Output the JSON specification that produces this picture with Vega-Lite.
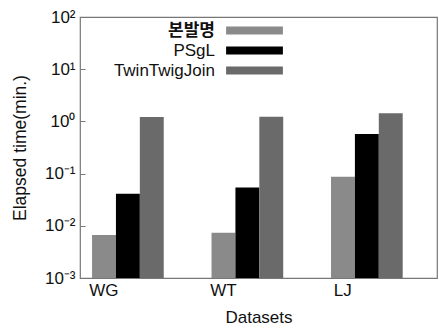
{
  "$schema": "https://vega.github.io/schema/vega-lite/v6.json",
  "width": 357,
  "height": 261,
  "autosize": {"type": "none"},
  "padding": {"left": 80, "top": 17, "right": 2, "bottom": 58},
  "background": "white",
  "config": {
    "font": "Liberation Sans",
    "view": {"stroke": "#777777", "strokeWidth": 1.2},
    "axis": {"domain": false, "grid": false, "labelColor": "#111", "titleColor": "#111", "labelFont": "Liberation Sans, Noto Sans CJK KR", "titleFont": "Liberation Sans", "titleFontWeight": "normal"}
  },
  "data": {
    "values": [
      {"dataset": "WG", "method": "본발명", "time": 0.0067},
      {"dataset": "WG", "method": "PSgL", "time": 0.041},
      {"dataset": "WG", "method": "TwinTwigJoin", "time": 1.21},
      {"dataset": "WT", "method": "본발명", "time": 0.0074},
      {"dataset": "WT", "method": "PSgL", "time": 0.054},
      {"dataset": "WT", "method": "TwinTwigJoin", "time": 1.23},
      {"dataset": "LJ", "method": "본발명", "time": 0.087},
      {"dataset": "LJ", "method": "PSgL", "time": 0.575},
      {"dataset": "LJ", "method": "TwinTwigJoin", "time": 1.43}
    ]
  },
  "mark": {"type": "bar"},
  "encoding": {
    "x": {
      "field": "dataset",
      "type": "nominal",
      "sort": ["WG", "WT", "LJ"],
      "scale": {"paddingInner": 0.4, "paddingOuter": 0.194, "align": 0.26},
      "axis": {"title": "Datasets", "labelAngle": 0, "labelFontSize": 17, "titleFontSize": 17, "labelOffset": -24, "ticks": false, "labelPadding": 4, "titlePadding": 11}
    },
    "xOffset": {
      "field": "method",
      "type": "nominal",
      "sort": ["본발명", "PSgL", "TwinTwigJoin"],
      "scale": {"paddingInner": 0, "paddingOuter": 0}
    },
    "y": {
      "field": "time",
      "type": "quantitative",
      "scale": {"type": "log", "domain": [0.001, 100], "nice": false},
      "axis": {
        "title": "Elapsed time(min.)",
        "values": [0.001, 0.01, 0.1, 1, 10, 100],
        "labelExpr": "datum.value < 0.005 ? '10⁻³' : datum.value < 0.05 ? '10⁻²' : datum.value < 0.5 ? '10⁻¹' : datum.value < 5 ? '10⁰' : datum.value < 50 ? '10¹' : '10²'",
        "labelFontSize": 17,
        "titleFontSize": 17.5,
        "tickSize": -5,
        "tickColor": "#777",
        "labelPadding": 10,
        "titlePadding": 15
      }
    },
    "y2": {"datum": 0.001},
    "color": {
      "field": "method",
      "type": "nominal",
      "sort": ["본발명", "PSgL", "TwinTwigJoin"],
      "scale": {"domain": ["본발명", "PSgL", "TwinTwigJoin"], "range": ["#8a8a8a", "#000000", "#6a6a6a"]},
      "legend": {
        "title": null,
        "orient": "none",
        "legendX": 166,
        "legendY": 5,
        "padding": 0,
        "symbolType": "M-7.1,-1H7.1V1H-7.1Z",
        "symbolSize": 64,
        "symbolStrokeWidth": 0,
        "labelAlign": "right",
        "labelOffset": -48,
        "labelFontSize": 17,
        "labelFont": "Liberation Sans, Noto Sans CJK KR",
        "labelColor": "#111",
        "rowPadding": 2,
        "labelLimit": 300,
        "encode": {"labels": {"update": {"fontWeight": {"signal": "datum.label == '본발명' ? 'bold' : 'normal'"}}}}
      }
    }
  }
}
